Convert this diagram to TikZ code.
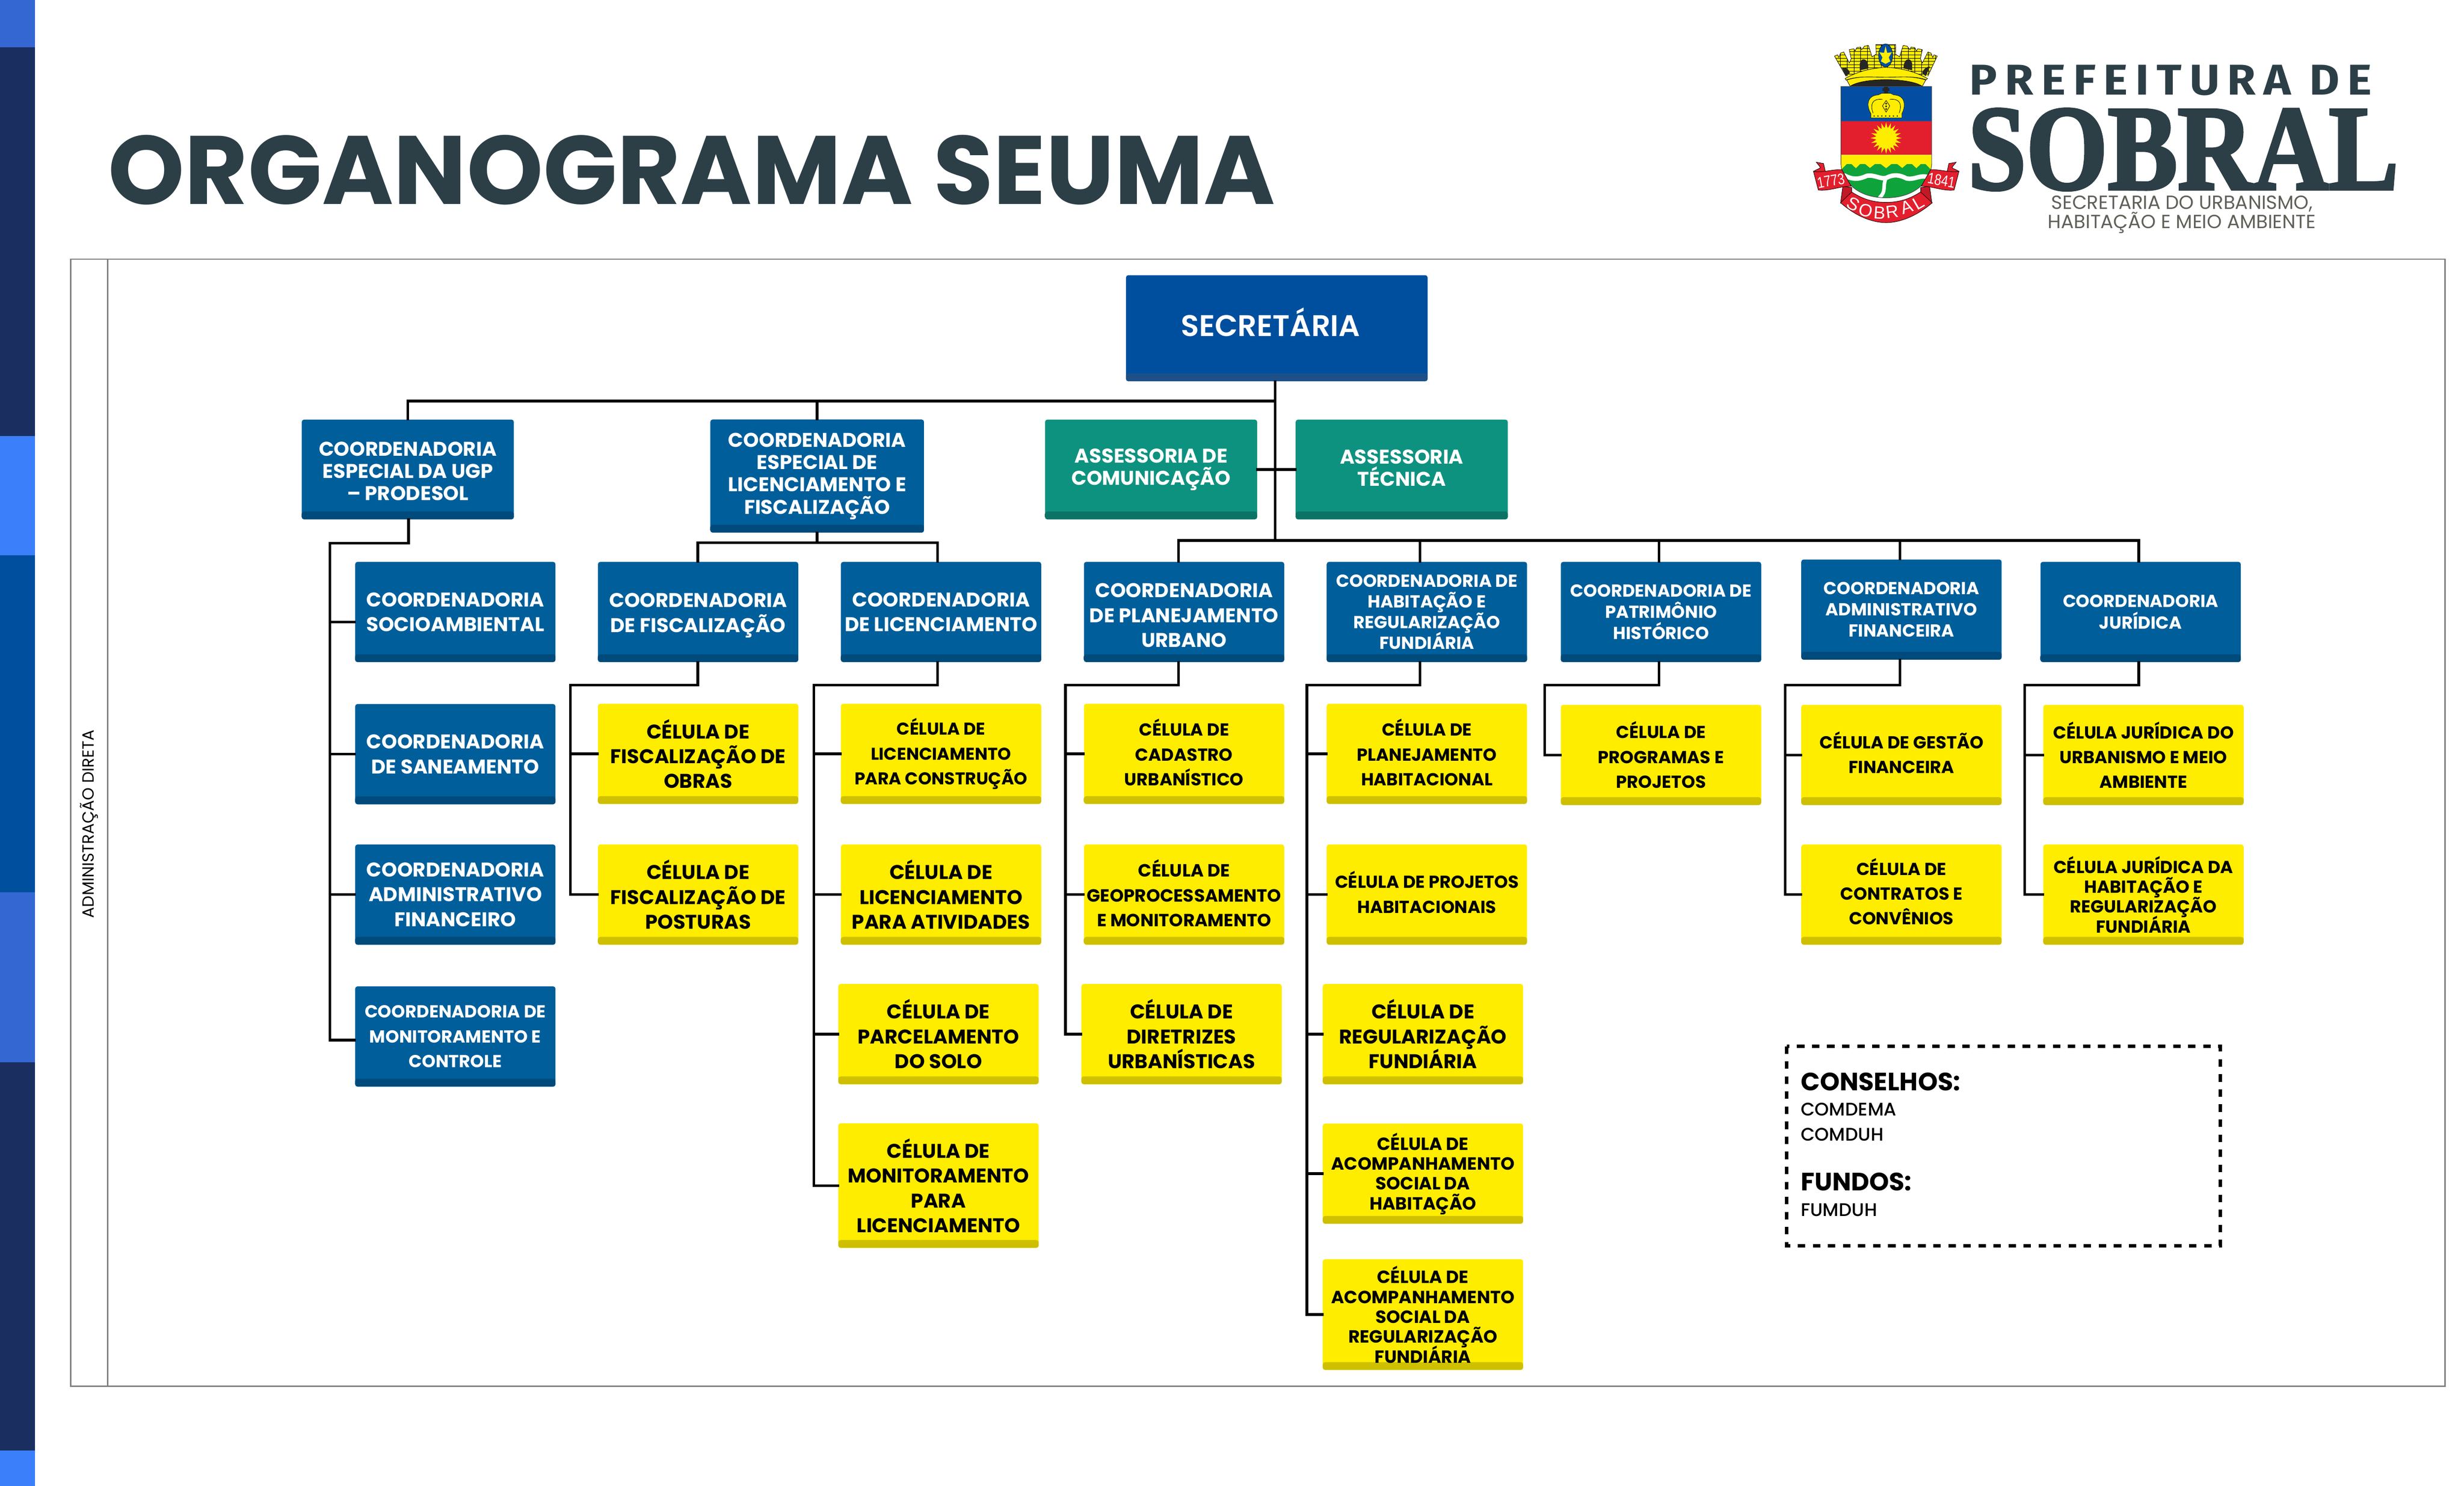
\documentclass[tikz,border=0pt]{standalone}
\usepackage{fontspec}
\setmainfont{Poppins}
\newfontfamily\medfont{Poppins Medium}
\newfontfamily\semifont{Poppins SemiBold}
\newfontfamily\logosans{Fira Sans}
\newfontfamily\logoserif{Liberation Serif}[BoldFeatures={FakeBold=2.5}]
\newfontfamily\ribbonfont{Liberation Sans}
\usetikzlibrary{calc}
\definecolor{barnavy}{HTML}{1A2F5F}
\definecolor{barblue}{HTML}{3B7FFB}
\definecolor{barmid}{HTML}{004E9E}
\definecolor{barsoft}{HTML}{3567D3}
\definecolor{inkdark}{HTML}{2C3E46}
\definecolor{inkgray}{HTML}{5F6058}
\definecolor{framegray}{HTML}{7F7F7F}
\definecolor{secblue}{HTML}{004F9F}
\definecolor{secdark}{HTML}{1F4F86}
\definecolor{orgblue}{HTML}{005E9A}
\definecolor{orgdark}{HTML}{004A7A}
\definecolor{orgteal}{HTML}{0E9280}
\definecolor{tealdark}{HTML}{0B7264}
\definecolor{cellyellow}{HTML}{FFED00}
\definecolor{celldark}{HTML}{CCBE00}
\definecolor{shieldblue}{HTML}{034EA2}
\definecolor{shieldred}{HTML}{E31E2D}
\definecolor{shieldgreen}{HTML}{0FA33C}
\newcommand\fr[2]{\fontsize{#1}{#2}\selectfont\lineskiplimit=-10pt\relax}
\newcommand\fz[2]{\fr{#1}{#2}\bfseries}
\tikzset{
	orgbox/.style n args={2}{fill=#1, rounded corners=0.03cm, inner sep=0pt, align=center,
		minimum width=2.55cm, minimum height=1.276cm,
		path picture={\shade[top color=#1, bottom color=#2]
			([yshift=0.1cm]path picture bounding box.south west) rectangle (path picture bounding box.south east);}},
	bluebox/.style={orgbox={orgblue}{orgdark}, text=white},
	tealbox/.style={orgbox={orgteal}{tealdark}, text=white, minimum width=2.7cm, minimum height=1.27cm},
	cellbox/.style={orgbox={cellyellow}{celldark}, text=black},
	link/.style={line width=0.034cm, black, line cap=rect},
	brick/.style={line width=0.08pt, black},
}
\begin{document}
\begin{tikzpicture}[x=0.02cm, y=-0.02cm]
	\useasboundingbox (0,0) rectangle (1568,945.7);

	%%%%% SIDE BAR %%%%%
	\foreach \ya/\yb/\barcol in {0/30.1/barsoft, 30.1/277.4/barnavy, 277.4/353.3/barblue,
		353.3/568/barmid, 568/676/barsoft, 676/923.3/barnavy, 923.3/945.7/barblue}
		\fill[\barcol] (0,\ya) rectangle (22.2,\yb);

	\node[anchor=base west, inner sep=0pt, text=inkdark, font=\fz{35.2}{40}] (title) at (68.5,130) {ORGANOGRAMA SEUMA};

	%%%%% FRAME %%%%%
	\draw[framegray, line width=0.016cm] (45,164.9) rectangle (1555.9,882.3);
	\draw[framegray, line width=0.016cm] (68.6,164.9) -- (68.6,882.3);
	\node[rotate=90, inner sep=0pt, font=\fontsize{5.85}{7}\selectfont] (direta) at (56.7,524.5) {ADMINISTRAÇÃO DIRETA};

	%%%%% LOGO %%%%%
	\begin{scope}[shift={(1145.5,23.78)}, x=0.0013212cm, y=-0.0016432cm]
		% crown
		\fill[black!85] (480,380) .. controls (600,300) and (1050,300) .. (1172,380) -- cycle;
		\begin{scope}
			\clip (330,145) -- (360,135) -- (372,155) -- (388,122) -- (418,113) -- (472,198) -- (490,165) -- (472,95) -- (515,88)
				-- (528,105) -- (543,80) -- (580,75) -- (590,95) -- (618,68) -- (655,62) -- (690,150) -- (730,130) -- (727,55) -- (917,55)
				-- (914,130) -- (954,150) -- (989,62) -- (1026,68) -- (1054,95) -- (1064,75) -- (1101,80) -- (1116,105) -- (1129,88)
				-- (1172,95) -- (1154,165) -- (1172,198) -- (1226,113) -- (1256,122) -- (1272,155) -- (1284,135) -- (1315,145)
				-- (1225,300) -- (440,300) -- cycle;
			\fill[cellyellow] (300,40) rectangle (1340,310);
			\foreach \yb in {60,85,...,310} \draw[brick] (300,\yb) -- (1340,\yb);
			\foreach \xb in {320,385,...,1340} \draw[brick] (\xb,40) -- (\xb,310);
		\end{scope}
		\draw[line width=0.15pt] (330,145) -- (360,135) -- (372,155) -- (388,122) -- (418,113) -- (472,198) -- (490,165) -- (472,95) -- (515,88)
				-- (528,105) -- (543,80) -- (580,75) -- (590,95) -- (618,68) -- (655,62) -- (690,150) -- (730,130) -- (727,55) -- (917,55)
				-- (914,130) -- (954,150) -- (989,62) -- (1026,68) -- (1054,95) -- (1064,75) -- (1101,80) -- (1116,105) -- (1129,88)
				-- (1172,95) -- (1154,165) -- (1172,198) -- (1226,113) -- (1256,122) -- (1272,155) -- (1284,135) -- (1315,145) -- (1225,300);
		\draw[line width=0.15pt] (330,145) -- (440,300);
		\fill[black!85] (572,255) -- (572,215) .. controls (572,150) and (655,150) .. (655,240) -- cycle;
		\fill[black!85] (992,240) .. controls (992,150) and (1075,150) .. (1075,215) -- (1075,255) -- cycle;
		\fill[black!85] (400,235) .. controls (440,225) and (470,250) .. (478,275) -- (440,300) -- cycle;
		\fill[black!85] (1170,275) .. controls (1180,250) and (1210,225) .. (1245,225) -- (1205,300) -- cycle;
		\filldraw[fill=cellyellow, draw=black, line width=0.15pt] (448,330) -- (480,378) .. controls (600,310) and (1050,310) .. (1172,378) -- (1205,330)
			.. controls (1050,285) and (600,285) .. (448,330) -- cycle;
		\filldraw[fill=cellyellow, draw=black, line width=0.15pt] (432,318) .. controls (560,260) and (700,235) .. (825,232)
			.. controls (950,235) and (1090,260) .. (1222,318) -- (1210,328) .. controls (1090,295) and (950,308) .. (825,308)
			.. controls (700,308) and (560,295) .. (440,330) -- cycle;
		\filldraw[fill=shieldblue, draw=black, line width=0.1pt] (820,140) ellipse [x radius=68, y radius=90];
		\fill[cellyellow] (820,68) -- (835,120) -- (880,115) -- (850,155) -- (865,185) -- (820,205) -- (775,185) -- (790,155) -- (760,115) -- (805,120) -- cycle;
		% shield
		\fill[shieldblue] (392,380) rectangle (1262,648);
		\fill[shieldred] (392,648) rectangle (1262,908);
		\fill[cellyellow] (392,908) -- (1262,908) -- (1262,980) .. controls (1262,1020) and (1250,1050) .. (1240,1060) -- (410,1060)
			.. controls (400,1050) and (392,1020) .. (392,980) -- cycle;
		\begin{scope}
			\clip (392,980) .. controls (400,1090) and (520,1240) .. (825,1240) .. controls (1130,1240) and (1254,1090) .. (1262,980) -- cycle;
			\fill[shieldgreen] (392,1030) -- (410,1010) -- (470,962) -- (535,1012) -- (598,962) -- (670,1010) -- (745,962) -- (825,1012)
				-- (903,962) -- (980,1010) -- (1050,962) -- (1115,1012) -- (1180,962) -- (1240,1010) -- (1262,1030) -- (1262,1260) -- (392,1260) -- cycle;
			\draw[white, line width=1.6pt] (420,1065) .. controls (500,1100) and (560,1100) .. (640,1070) .. controls (720,1060) and (770,1100) .. (830,1085)
				.. controls (900,1055) and (960,1065) .. (1020,1090) .. controls (1090,1105) and (1150,1060) .. (1225,1080);
			\draw[white, line width=1.3pt] (820,1095) .. controls (790,1150) and (830,1190) .. (760,1240);
		\end{scope}
		\draw[line width=0.2pt, black!70] (392,380) -- (392,980) .. controls (400,1090) and (520,1240) .. (825,1240) .. controls (1130,1240) and (1254,1090) .. (1262,980) -- (1262,380) -- cycle;
		% crown and sun of the shield
		\fill[black!85] (805,380) rectangle (840,430);
		\fill[black!85] (790,392) rectangle (855,415);
		\filldraw[fill=cellyellow, draw=black, line width=0.1pt] (680,622) -- (975,622) -- (975,590) .. controls (1010,540) and (1020,450) .. (900,445)
			-- (865,432) -- (785,432) -- (750,445) .. controls (630,450) and (640,540) .. (680,590) -- cycle;
		\draw[line width=0.15pt] (700,585) .. controls (670,520) and (690,470) .. (790,480);
		\draw[line width=0.15pt] (950,585) .. controls (980,520) and (960,470) .. (860,480);
		\draw[line width=0.15pt] (825,488) -- (860,530) -- (825,578) -- (790,530) -- cycle;
		\foreach \xd in {710,747,...,935} \fill[black] (\xd,608) ellipse [x radius=7, y radius=5];
		\foreach \yd in {512,533,554} \fill[black] (825,\yd) ellipse [x radius=9, y radius=7];
		\fill[cellyellow] (825,778) ellipse [x radius=100, y radius=82];
		\foreach \ang in {0,18,...,342}
			\fill[cellyellow] ({825+92*cos(\ang-9)},{778+75*sin(\ang-9)}) -- ({825+150*cos(\ang)},{778+122*sin(\ang)}) -- ({825+92*cos(\ang+9)},{778+75*sin(\ang+9)}) -- cycle;
		% ribbons
		\foreach \mx/\sx in {0/1,1652/-1} {
			\filldraw[fill=shieldred, draw=black, line width=0.15pt] ({\mx+\sx*155},965) -- ({\mx+\sx*225},975) -- ({\mx+\sx*245},1048) -- ({\mx+\sx*130},1035) .. controls ({\mx+\sx*170},1015) and ({\mx+\sx*190},1015) .. ({\mx+\sx*195},1005) -- cycle;
			\filldraw[fill=shieldred!85!black, draw=black, line width=0.15pt] ({\mx+\sx*410},1150) -- ({\mx+\sx*495},1160) -- ({\mx+\sx*495},1200) -- ({\mx+\sx*388},1280) -- cycle;
			\filldraw[fill=shieldred, draw=black, line width=0.15pt] ({\mx+\sx*128},1035) .. controls ({\mx+\sx*200},1050) and ({\mx+\sx*300},1020) .. ({\mx+\sx*400},1022)
				-- ({\mx+\sx*490},1150) .. controls ({\mx+\sx*380},1150) and ({\mx+\sx*280},1190) .. ({\mx+\sx*175},1180) -- cycle;
		}
		\filldraw[fill=shieldred, draw=black, line width=0.15pt] (388,1278) .. controls (560,1400) and (720,1432) .. (825,1432) .. controls (930,1432) and (1090,1400) .. (1268,1278)
			-- (1155,1195) .. controls (1050,1250) and (950,1275) .. (825,1275) .. controls (700,1275) and (600,1250) .. (495,1195) -- cycle;
		\node[text=white, font=\ribbonfont\fontsize{5.6}{6}\selectfont, rotate=10, inner sep=0pt] (yeara) at (295,1108) {\scalebox{0.8}[1]{1773}};
		\node[text=white, font=\ribbonfont\fontsize{5.6}{6}\selectfont, rotate=-10, inner sep=0pt] (yearb) at (1355,1105) {\scalebox{0.8}[1]{1841}};
		\foreach \ltr/\lx/\ly/\lrot in {S/510/1290/-28, O/630/1338/-15, B/765/1355/-4, R/885/1348/7, A/1022/1312/18, L/1135/1280/30}
			\node[text=white, font=\ribbonfont\fontsize{6.4}{7}\selectfont, rotate=\lrot, inner sep=0pt] (rib\ltr) at (\lx,\ly) {\ltr};
	\end{scope}

	\node[anchor=north west, inner sep=0pt, text=inkdark] (prefeitura) at (1253,41) {\resizebox{5.12cm}{0.38cm}{\logosans\bfseries P\,R\,E\,F\,E\,I\,T\,U\,R\,A\ \,D\,E}};
	\node[anchor=north west, inner sep=0pt, text=inkdark] (sobral) at (1252,69) {\resizebox{5.48cm}{1.02cm}{\logoserif\bfseries SOBRAL}};
	\node[inner sep=0pt, text=inkgray, align=center, font=\fr{6.9}{6.9}] (seuma) at (1388.5,136.5) {SECRETARIA DO URBANISMO,\\HABITAÇÃO E MEIO AMBIENTE};

	%%%%% TOP %%%%%
	\node[orgbox={secblue}{secdark}, text=white, minimum width=3.84cm, minimum height=1.35cm, font=\semifont\fontsize{10.8}{12}\selectfont] (sec) at (812.5,208.9) {\raisebox{-0.1cm}[0pt][0pt]{SECRETÁRIA}\kern 0.16cm};
	\node[bluebox, minimum width=2.7cm, minimum height=1.27cm, text height=22.6pt, font=\fz{7.2}{8.1}] (ugp) at (259.5,298.8) {COORDENADORIA\\ESPECIAL DA UGP\\– PRODESOL};
	\node[bluebox, minimum width=2.72cm, minimum height=1.44cm, font=\fz{7.2}{8.1}] (lesp) at (520,303) {COORDENADORIA\\ESPECIAL DE\\LICENCIAMENTO E\\FISCALIZAÇÃO};
	\node[tealbox, font=\fz{7.2}{8.1}] (com) at (732.5,298.8) {ASSESSORIA DE\\COMUNICAÇÃO};
	\node[tealbox, text depth=1.1pt, font=\fz{7.2}{8.1}] (tec) at (892,298.8) {ASSESSORIA\\TÉCNICA};

	%%%%% COORDENADORIAS %%%%%
	\node[bluebox, font=\fz{7.2}{9}] (socio) at (289.75,389.5) {COORDENADORIA\\SOCIOAMBIENTAL};
	\node[bluebox, font=\fz{7.2}{9}] (sanea) at (289.75,480) {COORDENADORIA\\DE SANEAMENTO};
	\node[bluebox, font=\fz{7.2}{9}] (admf) at (289.75,569.4) {COORDENADORIA\\ADMINISTRATIVO\\FINANCEIRO};
	\node[bluebox, font=\fz{6.3}{9}] (monit) at (289.75,659.7) {COORDENADORIA DE\\MONITORAMENTO E\\CONTROLE};
	\node[bluebox, text height=16.6pt, font=\fz{7.2}{9}] (fisc) at (444.25,389.5) {COORDENADORIA\\DE FISCALIZAÇÃO};
	\node[bluebox, font=\fz{7.2}{9}] (lice) at (598.85,389.5) {COORDENADORIA\\DE LICENCIAMENTO};
	\node[bluebox, text height=25.6pt, font=\fz{7.2}{9}] (plan) at (753.5,389.5) {COORDENADORIA\\DE PLANEJAMENTO\\URBANO};
	\node[bluebox, font=\fz{6.3}{7.5}] (hab) at (908,389.5) {COORDENADORIA DE\\HABITAÇÃO E\\REGULARIZAÇÃO\\FUNDIÁRIA};
	\node[bluebox, font=\fz{6.3}{7.7}] (patr) at (1057,389.5) {COORDENADORIA DE\\PATRIMÔNIO\\HISTÓRICO};
	\node[bluebox, font=\fz{6.3}{7.7}] (adm) at (1210,388) {COORDENADORIA\\ADMINISTRATIVO\\FINANCEIRA};
	\node[bluebox, font=\fz{6.3}{7.7}] (jur) at (1362.2,389.5) {COORDENADORIA\\JURÍDICA};

	%%%%% CELULAS %%%%%
	\node[cellbox, font=\fz{7.2}{9}] (celobras) at (444.25,479.8) {CÉLULA DE\\FISCALIZAÇÃO DE\\OBRAS};
	\node[cellbox, font=\fz{7.2}{9}] (celpost) at (444.25,569.4) {CÉLULA DE\\FISCALIZAÇÃO DE\\POSTURAS};
	\node[cellbox, font=\fz{6.2}{9}] (celcons) at (598.85,479.8) {CÉLULA DE\\LICENCIAMENTO\\PARA CONSTRUÇÃO};
	\node[cellbox, font=\fz{7.2}{9}] (celativ) at (598.85,569.4) {CÉLULA DE\\LICENCIAMENTO\\PARA ATIVIDADES};
	\node[cellbox, font=\fz{7.2}{9}] (celparc) at (597.2,658.2) {CÉLULA DE\\PARCELAMENTO\\DO SOLO};
	\node[cellbox, minimum height=1.586cm, font=\fz{7.2}{9}] (celmon) at (597.2,754.6) {CÉLULA DE\\MONITORAMENTO\\PARA\\LICENCIAMENTO};
	\node[cellbox, text depth=1.14pt, font=\fz{6.3}{9}] (celcad) at (753.5,479.8) {CÉLULA DE\\CADASTRO\\URBANÍSTICO};
	\node[cellbox, text depth=1.14pt, font=\fz{6.4}{9}] (celgeo) at (753.5,569.4) {CÉLULA DE\\GEOPROCESSAMENTO\\E MONITORAMENTO};
	\node[cellbox, font=\fz{7.2}{9}] (celdir) at (751.9,658.2) {CÉLULA DE\\DIRETRIZES\\URBANÍSTICAS};
	\node[cellbox, text depth=1.14pt, font=\fz{6.3}{9}] (celplh) at (908,479.8) {CÉLULA DE\\PLANEJAMENTO\\HABITACIONAL};
	\node[cellbox, text depth=1.7pt, font=\fz{6.3}{9}] (celproj) at (908,569.4) {CÉLULA DE PROJETOS\\HABITACIONAIS};
	\node[cellbox, font=\fz{7.2}{9}] (celreg) at (905.5,658.2) {CÉLULA DE\\REGULARIZAÇÃO\\FUNDIÁRIA};
	\node[cellbox, font=\fz{6.4}{7.2}] (celach) at (905.5,747) {CÉLULA DE\\ACOMPANHAMENTO\\SOCIAL DA\\HABITAÇÃO};
	\node[cellbox, minimum height=1.41cm, font=\fz{6.4}{7.2}] (celacr) at (905.5,836.7) {CÉLULA DE\\ACOMPANHAMENTO\\SOCIAL DA\\REGULARIZAÇÃO\\FUNDIÁRIA};
	\node[cellbox, font=\fz{6.3}{9}] (celprog) at (1057,480.5) {CÉLULA DE\\PROGRAMAS E\\PROJETOS};
	\node[cellbox, text depth=1.7pt, font=\fz{6.3}{9}] (celgest) at (1210,480.5) {CÉLULA DE GESTÃO\\FINANCEIRA};
	\node[cellbox, text depth=2.3pt, font=\fz{6.3}{9}] (celcont) at (1210,569.4) {CÉLULA DE\\CONTRATOS E\\CONVÊNIOS};
	\node[cellbox, font=\fz{6.3}{9}] (celjuru) at (1364,480.5) {CÉLULA JURÍDICA DO\\URBANISMO E MEIO\\AMBIENTE};
	\node[cellbox, font=\fz{6.3}{7.2}] (celjurh) at (1364,569.4) {CÉLULA JURÍDICA DA\\HABITAÇÃO E\\REGULARIZAÇÃO\\FUNDIÁRIA};

	%%%%% CONSELHOS %%%%%
	\draw[line width=0.044cm, dash pattern=on 2.7pt off 2.75pt] (1137,666) rectangle (1413,793);
	\node[anchor=base west, inner sep=0pt, font=\fz{9.1}{10}] (conselhos) at (1145.6,694) {CONSELHOS:};
	\node[anchor=base west, inner sep=0pt, font=\medfont\fontsize{6.6}{8}\selectfont] (comdema) at (1145.6,710) {COMDEMA};
	\node[anchor=base west, inner sep=0pt, font=\medfont\fontsize{6.6}{8}\selectfont] (comduh) at (1145.6,726) {COMDUH};
	\node[anchor=base west, inner sep=0pt, font=\fz{9.1}{10}] (fundos) at (1145.6,757.7) {FUNDOS:};
	\node[anchor=base west, inner sep=0pt, font=\medfont\fontsize{6.6}{8}\selectfont] (fumduh) at (1145.6,774) {FUMDUH};

	%%%%% CONNECTORS %%%%%
	\coordinate (busa) at (811.5,255.3);
	\coordinate (trunk) at (811.5,344);
	\coordinate (busend) at (1361,344);
	\coordinate (busstart) at (750,344);
	\draw[link] (sec.south -| trunk) -- (trunk);
	\draw[link] (ugp.north) |- (busa);
	\draw[link] (lesp.north) -- (lesp.north |- busa);
	\draw[link] (com.east) -- (tec.west);
	\draw[link] (busstart) -- (busend);

	\coordinate (licbusl) at (444,345.5);
	\coordinate (licbusr) at (596.7,345.5);
	\draw[link] (lesp.south) -- (lesp.south |- licbusl);
	\draw[link] (licbusl |- fisc.north) -- (licbusl) -- (licbusr) -- (licbusr |- lice.north);

	% parent, drop, spine and last cell
	\foreach \parent/\dropx/\spinex/\spiney/\lastcell in {ugp/260/210/345.8/monit, fisc/444/363/436/celpost, lice/596.7/517.9/436/celmon,
		plan/750/678/436/celdir, hab/903.7/831.6/436/celacr, patr/1055.7/983/436/celprog, adm/1209/1136/436/celcont, jur/1361/1288.4/436/celjurh} {
		\coordinate (bend) at (\dropx,\spiney);
		\coordinate (spine) at (\spinex,\spiney);
		\draw[link] (bend |- \parent.south) -- (bend) -- (spine) -- (spine |- \lastcell.west);
	}
	\foreach \parent/\dropx in {plan/750, hab/903.7, patr/1055.7, adm/1209, jur/1361} {
		\coordinate (drop) at (\dropx,344);
		\draw[link] (drop) -- (drop |- \parent.north);
	}
	\foreach \spinex/\cellname in {210/sanea, 210/admf, 363/celobras, 363/celpost, 517.9/celcons, 517.9/celativ, 517.9/celparc, 517.9/celmon,
		678/celcad, 678/celgeo, 678/celdir, 831.6/celplh, 831.6/celproj, 831.6/celreg, 831.6/celach, 831.6/celacr,
		983/celprog, 1136/celgest, 1136/celcont, 1288.4/celjuru, 1288.4/celjurh} {
		\coordinate (spine) at (\spinex,0);
		\draw[link] (\cellname.west) -- (spine |- \cellname.west);
	}
	\coordinate (spineugp) at (210,396);
	\coordinate (spinemon) at (210,662);
	\draw[link] (spineugp) -- (spineugp -| socio.west);
	\draw[link] (spinemon) -- (spinemon -| monit.west);
	\draw[link] (spineugp) -- (spinemon);
\end{tikzpicture}
\end{document}
